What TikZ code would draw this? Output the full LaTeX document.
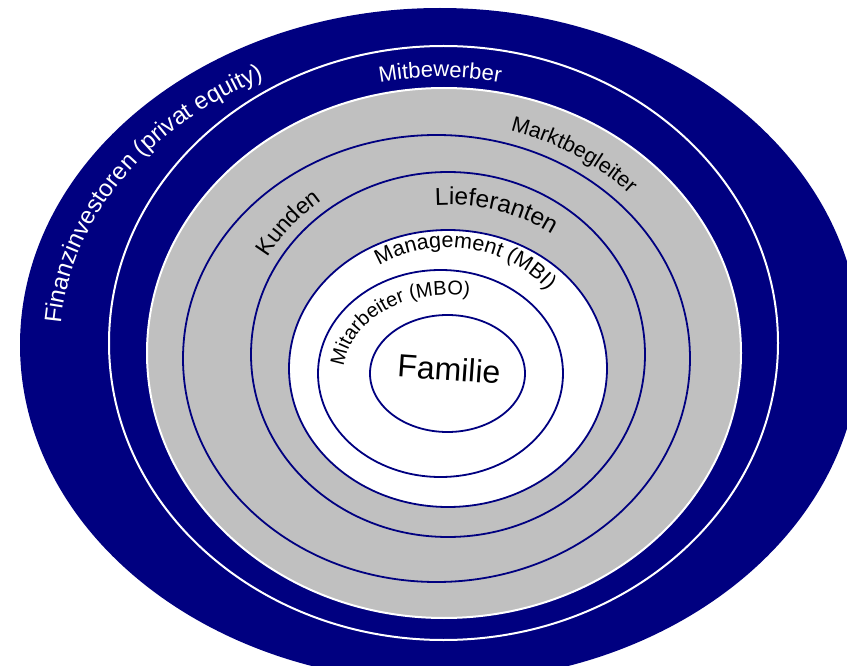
\documentclass[tikz,border=0pt]{standalone}
\usepackage{fontspec}
\setmainfont{Liberation Sans}
\usetikzlibrary{decorations.text}
\definecolor{navy}{RGB}{0,0,128}
\definecolor{silver}{RGB}{192,192,192}
\newcommand{\fs}[1]{\fontsize{#1}{#1}\selectfont}

\begin{document}
\begin{tikzpicture}[x=1pt, y=1pt, rim/.style={draw=navy, line width=1.8pt},
    arctext/.style={decorate, decoration={text along path, text align=left, text color=#1}},
    arctext/.default=black]
    \useasboundingbox (0,0) rectangle (847,-666);
    \fill[white] (0,0) rectangle (847,-666);
    \clip (0,0) rectangle (847,-666);

    \coordinate (c0) at (440,-345);
    \coordinate (c1) at (443.5,-343);
    \coordinate (c2) at (444,-353);
    \coordinate (c3) at (436.5,-358.5);
    \coordinate (c4) at (448,-354.5);
    \coordinate (c5) at (448,-368.5);
    \coordinate (c6) at (440.5,-373.5);
    \coordinate (c7) at (447.5,-373.5);

    % rings, outside in
    \fill[navy] (c0) ellipse [x radius=420pt, y radius=337pt];
    \draw[white, line width=2pt] (c1) ellipse [x radius=334.5pt, y radius=297pt];
    \filldraw[fill=silver, draw=white, line width=2pt] (c2) ellipse [x radius=297pt, y radius=265pt];
    \draw[rim] (c3) ellipse [x radius=253.5pt, y radius=223.5pt];
    \draw[rim] (c4) ellipse [x radius=197pt, y radius=182.5pt];
    \filldraw[rim, fill=white] (c5) ellipse [x radius=159pt, y radius=138.5pt];
    \draw[rim] (c6) ellipse [x radius=122.5pt, y radius=103.5pt];
    \draw[rim] (c7) ellipse [x radius=77.5pt, y radius=58.5pt];

    % labels along the rings
    \path[arctext=white, decoration={text={|\fs{24}|Finanzinvestoren (privat equity)}}]
        (c0) ++(176:380pt and 301pt) arc[start angle=176, end angle=80, x radius=380pt, y radius=301pt];
    \path[arctext=white, decoration={text={|\fs{22}|Mitbewerber}}]
        (c0) ++(101.5:302pt and 268pt) arc[start angle=101.5, end angle=50, x radius=302pt, y radius=268pt];
    \path[arctext, decoration={text={|\fs{21.5}|Marktbegleiter}}]
        (c3) ++(74:268pt and 237pt) arc[start angle=74, end angle=10, x radius=268pt, y radius=237pt];
    \path[arctext, decoration={text={|\fs{23}|Kunden}}]
        (c4) ++(150:208pt and 193.5pt) arc[start angle=150, end angle=90, x radius=208pt, y radius=193.5pt];
    \path[arctext, decoration={text={|\fs{24.5}|Lieferanten}}]
        (c5) ++(94:184pt and 163.5pt) arc[start angle=94, end angle=20, x radius=184pt, y radius=163.5pt];
    \path[arctext, decoration={text={|\fs{21.5}|Management (MBI)}}]
        (c5) ++(122:130pt and 121pt) arc[start angle=122, end angle=10, x radius=130pt, y radius=121pt];
    \path[arctext, decoration={text={|\fs{20}|Mitarbeiter (MBO)}}]
        (c7) ++(175:104pt and 78.5pt) arc[start angle=175, end angle=50, x radius=104pt, y radius=78.5pt];

    \node[font=\fs{32}, rotate=-4] (familie) at (449,-369) {Familie};
\end{tikzpicture}
\end{document}
